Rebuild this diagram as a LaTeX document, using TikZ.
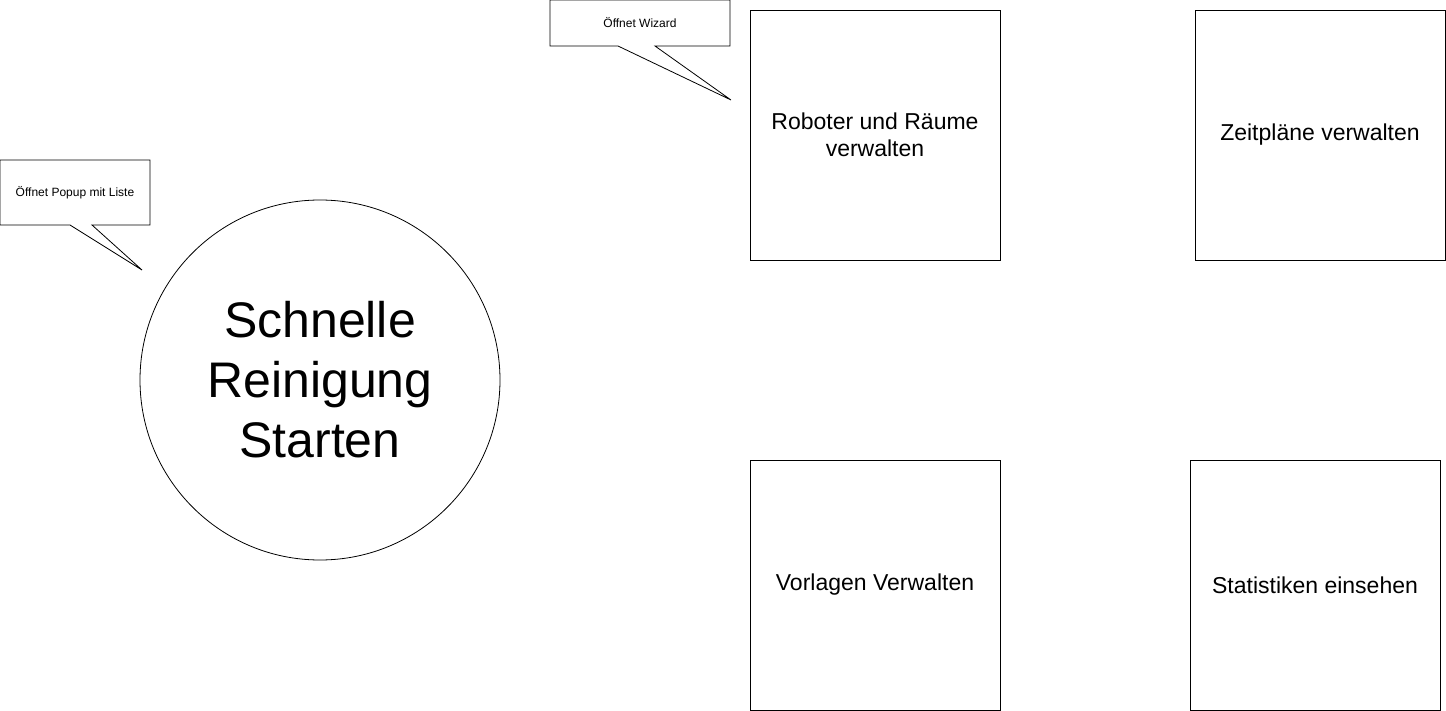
\documentclass[tikz,border=0pt]{standalone}
\usepackage{fontspec}
\setmainfont{Liberation Sans}
\begin{document}
\begin{tikzpicture}[x=1pt,y=-1pt,
  box/.style={draw,line width=0.8pt,minimum width=250pt,minimum height=250pt,inner sep=0pt,align=center,font=\fontsize{23}{27}\selectfont},
  calltext/.style={inner sep=0pt,font=\fontsize{12}{14}\selectfont},
  callline/.style={draw,line width=0.8pt,line join=miter}]
\useasboundingbox (0,0) rectangle (1446,711);
% Callout 1
\path[callline,fill=white] (550,0) -- (730,0) -- (730,46) -- (655,46) -- (731,100) -- (618,46) -- (550,46) -- cycle;
\node[calltext] (c1) at (640,23) {Öffnet Wizard};
% Callout 2
\path[callline,fill=white] (0,160) -- (150,160) -- (150,225) -- (92,225) -- (142,270) -- (70,225) -- (0,225) -- cycle;
\node[calltext] (c2) at (75,192.5) {Öffnet Popup mit Liste};
% Circle
\node[draw,line width=0.8pt,circle,minimum size=360pt,inner sep=0pt,align=center,font=\fontsize{50}{60}\selectfont] (quick) at (320,380) {Schnelle\\Reinigung\\Starten};
% Boxes
\node[box] (robot) at (875,135) {Roboter und Räume\\verwalten};
\node[box] (zeit) at (1320,135) {Zeitpläne verwalten};
\node[box] (vorl) at (875,585) {\raisebox{-2pt}{Vorlagen Verwalten}};
\node[box] (stat) at (1315,585) {Statistiken einsehen};
\end{tikzpicture}
\end{document}
